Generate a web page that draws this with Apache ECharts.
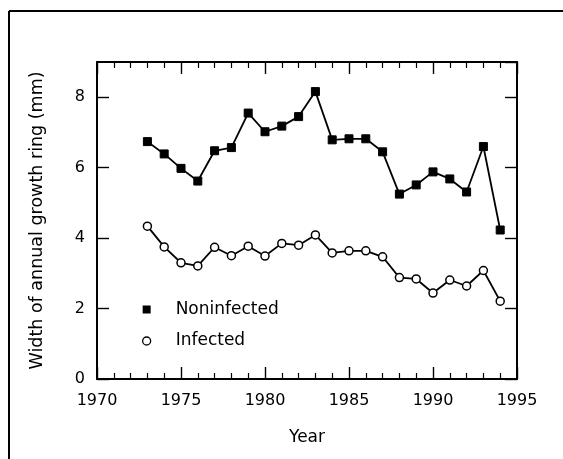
<!DOCTYPE html>
<html>
<head>
<meta charset="utf-8">
<script src="https://cdn.jsdelivr.net/npm/echarts@6/dist/echarts.min.js"></script>
<style>
  html, body { margin: 0; padding: 0; background: #fff; }
  #chart { width: 563px; height: 459px; }
</style>
</head>
<body>
<div id="chart"></div>
<script>
// data
var years = [1973, 1974, 1975, 1976, 1977, 1978, 1979, 1980, 1981, 1982, 1983,
  1984, 1985, 1986, 1987, 1988, 1989, 1990, 1991, 1992, 1993, 1994];
var noninfected = [6.74, 6.39, 5.98, 5.62, 6.48, 6.57, 7.55, 7.02, 7.18, 7.45, 8.16,
  6.79, 6.82, 6.82, 6.45, 5.25, 5.51, 5.88, 5.68, 5.31, 6.60, 4.23];
var infected = [4.34, 3.75, 3.30, 3.21, 3.74, 3.50, 3.77, 3.49, 3.85, 3.80, 4.09,
  3.58, 3.64, 3.64, 3.47, 2.88, 2.84, 2.44, 2.81, 2.64, 3.08, 2.21];
var seriesNames = ["Noninfected", "Infected"];

function pairs(vals) {
  return years.map(function(y, i) { return [y, vals[i]]; });
}

var FONT = "DejaVu Sans";
var chart = echarts.init(document.getElementById("chart"));

// ticks point inward, like the original
function xAx(pos, showLabel) {
  return {
    type: "value", position: pos, min: 1970, max: 1995, interval: 5,
    axisLine: { show: true, onZero: false, lineStyle: { color: "#000", width: 2 } },
    axisTick: { show: true, inside: true, length: 12, lineStyle: { color: "#000", width: 1.4 } },
    minorTick: { show: true, splitNumber: 5, length: 6, lineStyle: { color: "#000", width: 1.2 } },
    axisLabel: { show: showLabel, color: "#000", fontFamily: FONT, fontSize: 16, margin: 14,
      formatter: function(v) { return String(v); } },
    splitLine: { show: false }
  };
}
function yAx(pos, showLabel) {
  return {
    type: "value", position: pos, min: 0, max: 9, interval: 2,
    axisLine: { show: true, onZero: false, lineStyle: { color: "#000", width: 2 } },
    axisTick: { show: true, inside: true, length: 12, lineStyle: { color: "#000", width: 1.4 } },
    minorTick: { show: false },
    axisLabel: { show: showLabel, showMaxLabel: false, color: "#000", fontFamily: FONT,
      fontSize: 16, margin: 12 },
    splitLine: { show: false }
  };
}

var xBottom = xAx("bottom", true);
xBottom.name = "Year";
xBottom.nameLocation = "middle";
xBottom.nameGap = 50;
xBottom.nameTextStyle = { color: "#000", fontFamily: FONT, fontSize: 17 };

var yLeft = yAx("left", true);
yLeft.name = "Width of annual growth ring (mm)";
yLeft.nameLocation = "middle";
yLeft.nameGap = 51;
yLeft.nameTextStyle = { color: "#000", fontFamily: FONT, fontSize: 17.5 };

chart.setOption({
  animation: false,
  backgroundColor: "#fff",
  grid: { left: 97, right: 46, top: 62, bottom: 80 },
  xAxis: [xBottom, xAx("top", false)],
  yAxis: [yLeft, yAx("right", false)],
  legend: {
    orient: "vertical", left: 137, top: 296, itemGap: 14.5,
    itemWidth: 8, itemHeight: 8,
    textStyle: { color: "#000", fontFamily: FONT, fontSize: 17, padding: [0, 0, 0, 20] },
    data: [
      { name: seriesNames[0], icon: "rect" },
      { name: seriesNames[1], icon: "circle", itemStyle: { borderWidth: 1.3 } }
    ]
  },
  graphic: [
    // page frame, only top and left edges show in the scan
    { type: "line", shape: { x1: 9, y1: 11, x2: 563, y2: 11 }, style: { stroke: "#000", lineWidth: 2 } },
    { type: "line", shape: { x1: 9, y1: 11, x2: 9, y2: 459 }, style: { stroke: "#000", lineWidth: 2 } }
  ],
  series: [
    {
      name: seriesNames[0], type: "line", data: pairs(noninfected),
      symbol: "rect", symbolSize: 8,
      lineStyle: { color: "#000", width: 1.8 },
      itemStyle: { color: "#000", borderColor: "#000" }
    },
    {
      name: seriesNames[1], type: "line", data: pairs(infected),
      symbol: "circle", symbolSize: 8,
      lineStyle: { color: "#000", width: 1.8 },
      itemStyle: { color: "#fff", borderColor: "#000", borderWidth: 1.5 }
    }
  ]
});
</script>
</body>
</html>
